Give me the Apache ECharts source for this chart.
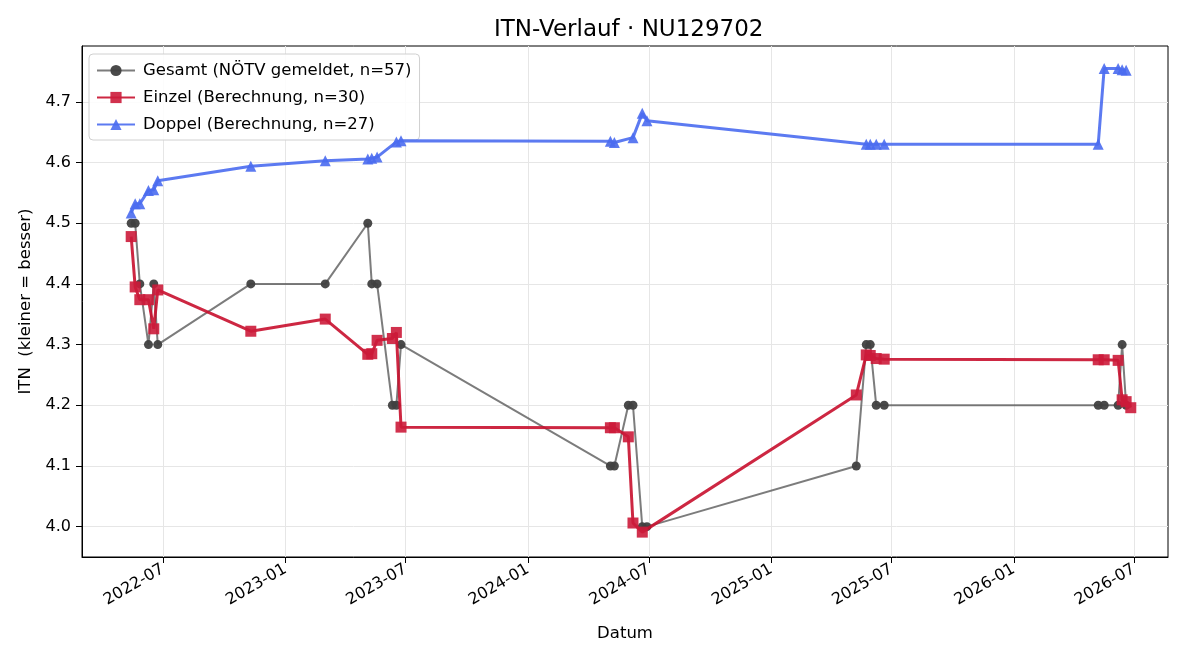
<!DOCTYPE html>
<html>
<head>
<meta charset="utf-8">
<title>ITN-Verlauf</title>
<script src="https://cdn.jsdelivr.net/npm/echarts@6/dist/echarts.min.js"></script>
<style>
    html, body { margin: 0; padding: 0; background: #fff; }
    #chart { width: 1200px; height: 660px; }
</style>
</head>
<body>
<div id="chart"></div>
<script>
// Werte
var gesamtDates = ['2022-05-14', '2022-05-20', '2022-05-27', '2022-06-09', '2022-06-17', '2022-06-23',
    '2022-11-10', '2023-03-02', '2023-05-05', '2023-05-11', '2023-05-19', '2023-06-11', '2023-06-17',
    '2023-06-24', '2024-05-04', '2024-05-10', '2024-05-31', '2024-06-07', '2024-06-21', '2024-06-28',
    '2025-05-09', '2025-05-24', '2025-05-30', '2025-06-08', '2025-06-20', '2026-05-08', '2026-05-17',
    '2026-06-07', '2026-06-13', '2026-06-19'];
var gesamtValues = [4.5, 4.5, 4.4, 4.3, 4.4, 4.3,
    4.4, 4.4, 4.5, 4.4, 4.4, 4.2, 4.2,
    4.3, 4.1, 4.1, 4.2, 4.2, 4.0, 4.0,
    4.1, 4.3, 4.3, 4.2, 4.2, 4.2, 4.2,
    4.2, 4.3, 4.2];

var einzelDates = ['2022-05-14', '2022-05-20', '2022-05-27', '2022-06-09', '2022-06-17', '2022-06-23',
    '2022-11-10', '2023-03-02', '2023-05-05', '2023-05-11', '2023-05-19', '2023-06-11', '2023-06-17',
    '2023-06-24', '2024-05-04', '2024-05-10', '2024-05-31', '2024-06-07', '2024-06-21',
    '2025-05-09', '2025-05-24', '2025-05-30', '2025-06-08', '2025-06-20', '2026-05-08', '2026-05-17',
    '2026-06-07', '2026-06-13', '2026-06-19', '2026-06-26'];
var einzelValues = [4.478, 4.395, 4.374, 4.374, 4.326, 4.39,
    4.322, 4.342, 4.284, 4.285, 4.307, 4.31, 4.32,
    4.164, 4.163, 4.163, 4.148, 4.006, 3.991,
    4.217, 4.283, 4.282, 4.277, 4.276, 4.275, 4.275,
    4.274, 4.209, 4.206, 4.196];

var doppelDates = ['2022-05-14', '2022-05-20', '2022-05-27', '2022-06-09', '2022-06-17', '2022-06-23',
    '2022-11-10', '2023-03-02', '2023-05-05', '2023-05-11', '2023-05-19', '2023-06-17', '2023-06-24',
    '2024-05-04', '2024-05-10', '2024-06-07', '2024-06-21', '2024-06-28',
    '2025-05-24', '2025-05-30', '2025-06-08', '2025-06-20', '2026-05-08', '2026-05-17',
    '2026-06-07', '2026-06-13', '2026-06-19'];
var doppelValues = [4.517, 4.532, 4.532, 4.554, 4.555, 4.57,
    4.594, 4.603, 4.606, 4.607, 4.609, 4.634, 4.636,
    4.635, 4.633, 4.641, 4.681, 4.669,
    4.63, 4.63, 4.63, 4.63, 4.63, 4.755,
    4.755, 4.753, 4.752];

var xTickLabels = ['2022-07', '2023-01', '2023-07', '2024-01', '2024-07', '2025-01', '2025-07', '2026-01', '2026-07'];
var yTickLabels = [4.0, 4.1, 4.2, 4.3, 4.4, 4.5, 4.6, 4.7];

var font = 'DejaVu Sans';

// Datum als Zeitstempel (UTC), x-Achse ist eine Werteachse
function toTime(s) {
    var p = s.split('-');
    return Date.UTC(+p[0], +p[1] - 1, p[2] ? +p[2] : 1);
}

function pairs(dates, values) {
    var out = [];
    for (var i = 0; i < dates.length; i++) {
        out.push([toTime(dates[i]), values[i]]);
    }
    return out;
}

var xTicks = xTickLabels.map(toTime);

var option = {
    animation: false,
    backgroundColor: '#fff',
    title: {
        text: 'ITN-Verlauf · NU129702',
        left: 489,
        top: 14,
        textStyle: { fontFamily: font, fontSize: 23, fontWeight: 'normal', color: '#000' }
    },
    legend: {
        orient: 'vertical',
        left: 89,
        top: 54,
        padding: [8, 8, 7, 7],
        itemGap: 10,
        itemWidth: 38,
        itemHeight: 14,
        backgroundColor: 'rgba(255,255,255,0.85)',
        borderColor: '#d0d0d0',
        borderWidth: 1,
        borderRadius: 4,
        textStyle: { fontFamily: font, fontSize: 16.5, color: '#000', padding: [0, 0, 0, 3] },
        data: ['Gesamt (NÖTV gemeldet, n=57)', 'Einzel (Berechnung, n=30)', 'Doppel (Berechnung, n=27)']
    },
    grid: {
        left: 82,
        right: 32,
        top: 46,
        bottom: 103,
        show: true,
        borderColor: '#000',
        borderWidth: 1
    },
    xAxis: {
        type: 'value',
        min: toTime('2022-03-01'),
        max: toTime('2026-08-21'),
        name: 'Datum',
        nameLocation: 'middle',
        nameGap: 68,
        nameTextStyle: { fontFamily: font, fontSize: 16.5, color: '#000' },
        axisLine: { lineStyle: { color: '#000', width: 1 } },
        axisTick: { show: true, customValues: xTicks, length: 6, lineStyle: { color: '#000' } },
        axisLabel: {
            customValues: xTicks,
            rotate: 30,
            margin: 11,
            fontFamily: font,
            fontSize: 16,
            color: '#000',
            formatter: function (v) {
                var d = new Date(v);
                var m = d.getUTCMonth() + 1;
                return d.getUTCFullYear() + '-' + (m < 10 ? '0' + m : m);
            }
        },
        splitLine: { show: true, lineStyle: { color: '#e6e6e6', width: 1 } }
    },
    yAxis: {
        type: 'value',
        min: 3.95,
        max: 4.792,
        name: 'ITN  (kleiner = besser)',
        nameLocation: 'middle',
        nameGap: 47,
        nameTextStyle: { fontFamily: font, fontSize: 16.5, color: '#000' },
        axisLine: { show: true, lineStyle: { color: '#000', width: 1 } },
        axisTick: { show: true, customValues: yTickLabels, length: 6, lineStyle: { color: '#000' } },
        axisLabel: {
            customValues: yTickLabels,
            margin: 11,
            fontFamily: font,
            fontSize: 16,
            color: '#000',
            formatter: function (v) { return v.toFixed(1); }
        },
        splitLine: { show: true, lineStyle: { color: '#e6e6e6', width: 1 } }
    },
    series: [
        {
            name: 'Gesamt (NÖTV gemeldet, n=57)',
            type: 'line',
            data: pairs(gesamtDates, gesamtValues),
            symbol: 'circle',
            symbolSize: 9,
            lineStyle: { color: '#444', width: 2, opacity: 0.7 },
            itemStyle: { color: '#404040', opacity: 0.95 },
            z: 2
        },
        {
            name: 'Einzel (Berechnung, n=30)',
            type: 'line',
            data: pairs(einzelDates, einzelValues),
            symbol: 'rect',
            symbolSize: 11,
            lineStyle: { color: '#c8102e', width: 3, opacity: 0.9 },
            itemStyle: { color: '#cc1b3a', opacity: 0.9 },
            z: 3
        },
        {
            name: 'Doppel (Berechnung, n=27)',
            type: 'line',
            data: pairs(doppelDates, doppelValues),
            symbol: 'triangle',
            symbolSize: 11,
            lineStyle: { color: '#4a6cf0', width: 3, opacity: 0.9 },
            itemStyle: { color: '#4a6cf0', opacity: 0.9 },
            z: 4
        }
    ]
};

var myChart = echarts.init(document.getElementById('chart'));
myChart.setOption(option, true);
</script>
</body>
</html>
